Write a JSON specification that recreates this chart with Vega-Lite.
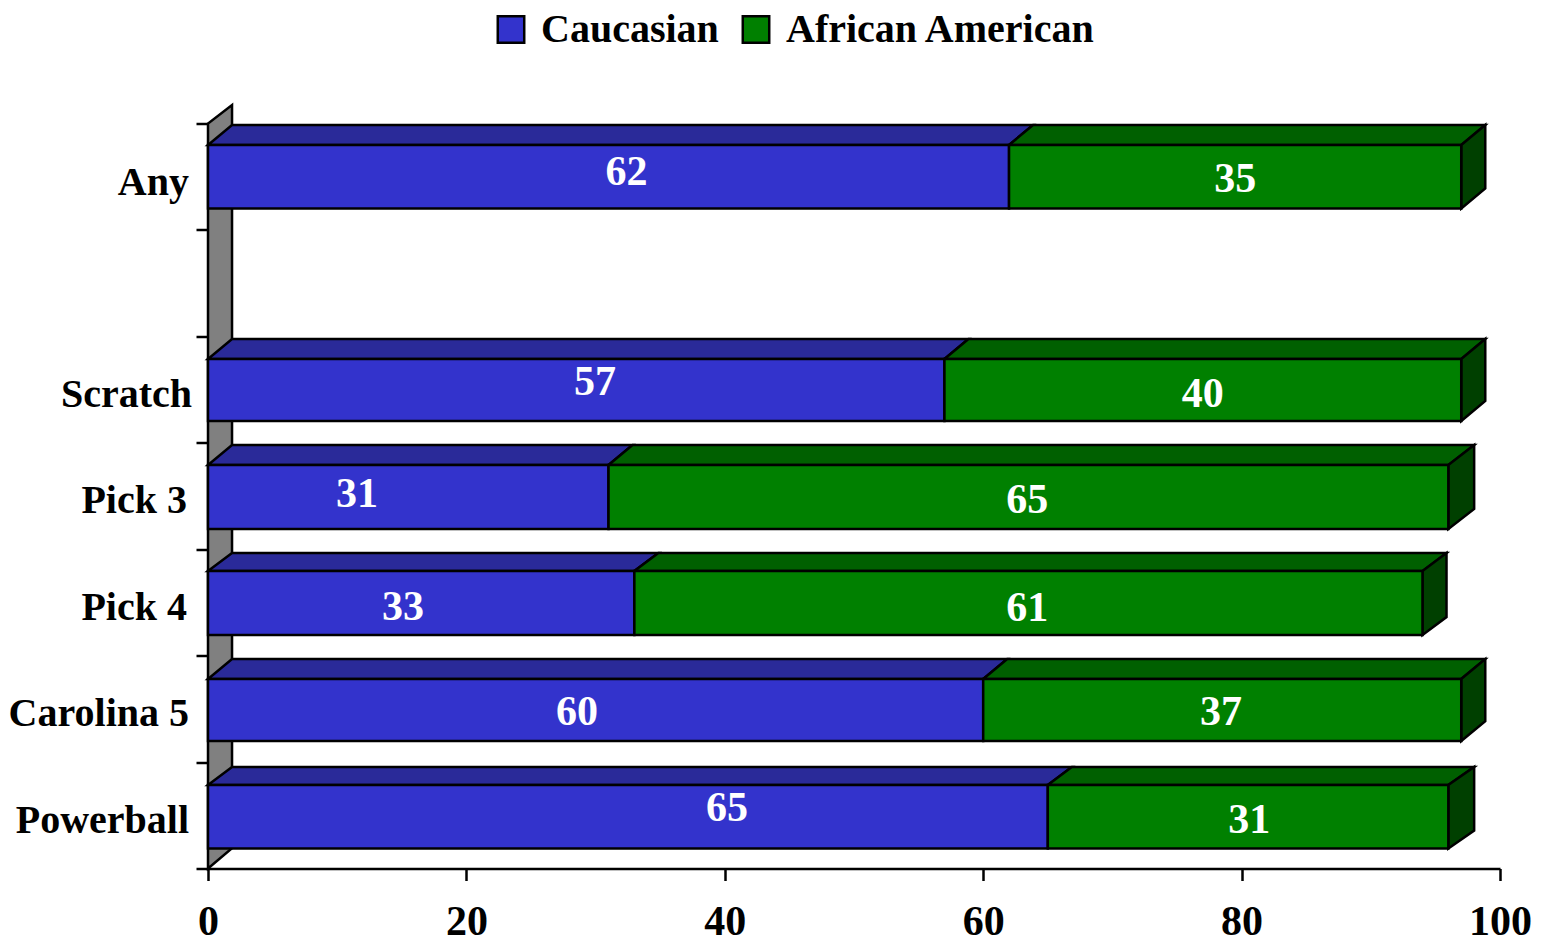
{"$schema":"https://vega.github.io/schema/vega-lite/v6.json","width":1292,"height":745,"autosize":"none","padding":{"left":208,"top":123.5,"right":41,"bottom":73.5},"background":"white","config":{"view":{"stroke":null},"font":"Liberation Serif","axis":{"grid":false,"title":null,"domainColor":"black","domainWidth":2.5,"tickColor":"black","tickWidth":2.5,"tickSize":12}},
"datasets":{
"faces":[
{"shape":"wall","face":"wall","x":0,"y":0,"y2":7},{"shape":"wall","face":"wall","x":1.86,"y":0.19,"y2":7.174},
{"shape":"a1","face":"blue top","x":0,"y":6.798,"y2":6.798},{"shape":"a1","face":"blue top","x":1.86,"y":6.798,"y2":6.986},{"shape":"a1","face":"blue top","x":62,"y":6.798,"y2":6.986},{"shape":"a1","face":"blue top","x":63.86,"y":6.986,"y2":6.986},
{"shape":"a2","face":"green top","x":62,"y":6.798,"y2":6.798},{"shape":"a2","face":"green top","x":63.86,"y":6.798,"y2":6.986},{"shape":"a2","face":"green top","x":97,"y":6.798,"y2":6.986},{"shape":"a2","face":"green top","x":98.86,"y":6.986,"y2":6.986},
{"shape":"a3","face":"green side","x":97,"y":6.201,"y2":6.798},{"shape":"a3","face":"green side","x":98.86,"y":6.389,"y2":6.986},
{"shape":"b1","face":"blue top","x":0,"y":4.787,"y2":4.787},{"shape":"b1","face":"blue top","x":1.86,"y":4.787,"y2":4.975},{"shape":"b1","face":"blue top","x":57,"y":4.787,"y2":4.975},{"shape":"b1","face":"blue top","x":58.86,"y":4.975,"y2":4.975},
{"shape":"b2","face":"green top","x":57,"y":4.787,"y2":4.787},{"shape":"b2","face":"green top","x":58.86,"y":4.787,"y2":4.975},{"shape":"b2","face":"green top","x":97,"y":4.787,"y2":4.975},{"shape":"b2","face":"green top","x":98.86,"y":4.975,"y2":4.975},
{"shape":"b3","face":"green side","x":97,"y":4.205,"y2":4.787},{"shape":"b3","face":"green side","x":98.86,"y":4.393,"y2":4.975},
{"shape":"c1","face":"blue top","x":0,"y":3.791,"y2":3.791},{"shape":"c1","face":"blue top","x":1.86,"y":3.791,"y2":3.979},{"shape":"c1","face":"blue top","x":31,"y":3.791,"y2":3.979},{"shape":"c1","face":"blue top","x":32.86,"y":3.979,"y2":3.979},
{"shape":"c2","face":"green top","x":31,"y":3.791,"y2":3.791},{"shape":"c2","face":"green top","x":32.86,"y":3.791,"y2":3.979},{"shape":"c2","face":"green top","x":96,"y":3.791,"y2":3.979},{"shape":"c2","face":"green top","x":98,"y":3.979,"y2":3.979},
{"shape":"c3","face":"green side","x":96,"y":3.19,"y2":3.791},{"shape":"c3","face":"green side","x":98,"y":3.378,"y2":3.979},
{"shape":"d1","face":"blue top","x":0,"y":2.795,"y2":2.795},{"shape":"d1","face":"blue top","x":1.86,"y":2.795,"y2":2.964},{"shape":"d1","face":"blue top","x":33,"y":2.795,"y2":2.964},{"shape":"d1","face":"blue top","x":34.86,"y":2.964,"y2":2.964},
{"shape":"d2","face":"green top","x":33,"y":2.795,"y2":2.795},{"shape":"d2","face":"green top","x":34.86,"y":2.795,"y2":2.964},{"shape":"d2","face":"green top","x":94,"y":2.795,"y2":2.964},{"shape":"d2","face":"green top","x":95.86,"y":2.964,"y2":2.964},
{"shape":"d3","face":"green side","x":94,"y":2.194,"y2":2.795},{"shape":"d3","face":"green side","x":95.86,"y":2.363,"y2":2.964},
{"shape":"e1","face":"blue top","x":0,"y":1.781,"y2":1.781},{"shape":"e1","face":"blue top","x":1.86,"y":1.781,"y2":1.968},{"shape":"e1","face":"blue top","x":60,"y":1.781,"y2":1.968},{"shape":"e1","face":"blue top","x":61.86,"y":1.968,"y2":1.968},
{"shape":"e2","face":"green top","x":60,"y":1.781,"y2":1.781},{"shape":"e2","face":"green top","x":61.86,"y":1.781,"y2":1.968},{"shape":"e2","face":"green top","x":97,"y":1.781,"y2":1.968},{"shape":"e2","face":"green top","x":98.86,"y":1.968,"y2":1.968},
{"shape":"e3","face":"green side","x":97,"y":1.198,"y2":1.781},{"shape":"e3","face":"green side","x":98.86,"y":1.385,"y2":1.968},
{"shape":"f1","face":"blue top","x":0,"y":0.785,"y2":0.785},{"shape":"f1","face":"blue top","x":1.86,"y":0.785,"y2":0.954},{"shape":"f1","face":"blue top","x":65,"y":0.785,"y2":0.954},{"shape":"f1","face":"blue top","x":66.86,"y":0.954,"y2":0.954},
{"shape":"f2","face":"green top","x":65,"y":0.785,"y2":0.785},{"shape":"f2","face":"green top","x":66.86,"y":0.785,"y2":0.954},{"shape":"f2","face":"green top","x":96,"y":0.785,"y2":0.954},{"shape":"f2","face":"green top","x":98,"y":0.954,"y2":0.954},
{"shape":"f3","face":"green side","x":96,"y":0.188,"y2":0.785},{"shape":"f3","face":"green side","x":98,"y":0.357,"y2":0.954}
],
"bars":[
{"game":"Any","series":"Caucasian","x":0,"x2":62,"y":6.201,"y2":6.798},{"game":"Any","series":"African American","x":62,"x2":97,"y":6.201,"y2":6.798},
{"game":"Scratch","series":"Caucasian","x":0,"x2":57,"y":4.205,"y2":4.787},{"game":"Scratch","series":"African American","x":57,"x2":97,"y":4.205,"y2":4.787},
{"game":"Pick 3","series":"Caucasian","x":0,"x2":31,"y":3.19,"y2":3.791},{"game":"Pick 3","series":"African American","x":31,"x2":96,"y":3.19,"y2":3.791},
{"game":"Pick 4","series":"Caucasian","x":0,"x2":33,"y":2.194,"y2":2.795},{"game":"Pick 4","series":"African American","x":33,"x2":94,"y":2.194,"y2":2.795},
{"game":"Carolina 5","series":"Caucasian","x":0,"x2":60,"y":1.198,"y2":1.781},{"game":"Carolina 5","series":"African American","x":60,"x2":97,"y":1.198,"y2":1.781},
{"game":"Powerball","series":"Caucasian","x":0,"x2":65,"y":0.188,"y2":0.785},{"game":"Powerball","series":"African American","x":65,"x2":96,"y":0.188,"y2":0.785}
],
"values":[
{"label":"62","x":32.4,"y":6.54},{"label":"35","x":79.5,"y":6.474},{"label":"57","x":29.95,"y":4.57},{"label":"40","x":77,"y":4.458},{"label":"31","x":11.53,"y":3.52},{"label":"65","x":63.4,"y":3.458},{"label":"33","x":15.09,"y":2.458},{"label":"61","x":63.4,"y":2.447},{"label":"60","x":28.56,"y":1.47},{"label":"37","x":78.4,"y":1.47},{"label":"65","x":40.17,"y":0.568},{"label":"31","x":80.6,"y":0.46}
],
"games":[
{"game":"Any","x":-1.47,"y":6.44},{"game":"Scratch","x":-1.24,"y":4.45},{"game":"Pick 3","x":-1.63,"y":3.45},{"game":"Pick 4","x":-1.63,"y":2.45},{"game":"Carolina 5","x":-1.47,"y":1.455},{"game":"Powerball","x":-1.47,"y":0.445}
]},
"layer":[
{"data":{"name":"faces"},"mark":{"type":"area","stroke":"black","strokeWidth":2.5,"clip":false,"opacity":1,"line":false},"encoding":{
"x":{"field":"x","type":"quantitative","scale":{"domain":[0,100],"nice":false,"zero":false},"axis":{"values":[0,20,40,60,80,100],"labelFont":"Liberation Serif","labelFontWeight":"bold","labelFontSize":42,"labelColor":"black","labelPadding":21,"labelOverlap":false,"labelFlush":false}},
"y":{"field":"y","type":"quantitative","scale":{"domain":[0,7],"nice":false,"zero":false},"axis":{"values":[0,1,2,3,4,5,6,7],"labels":false}},
"y2":{"field":"y2"},
"detail":{"field":"shape"},
"color":{"field":"face","type":"nominal","scale":{"domain":["Caucasian","African American","wall","blue top","green top","green side"],"range":["#3333cc","#008000","#808080","#2a2a99","#006000","#004000"]},"legend":{"orient":"none","legendX":283,"legendY":-114,"direction":"horizontal","title":null,"values":["Caucasian","African American"],"symbolType":"square","symbolSize":700,"symbolStrokeColor":"black","symbolStrokeWidth":2.5,"symbolOpacity":1,"labelFont":"Liberation Serif","labelFontWeight":"bold","labelFontSize":40,"labelColor":"black","labelOffset":10,"columnPadding":17,"padding":0,"labelLimit":400}}}},
{"data":{"name":"bars"},"mark":{"type":"rect","stroke":"black","strokeWidth":2.5},"encoding":{
"x":{"field":"x","type":"quantitative"},"x2":{"field":"x2"},
"y":{"field":"y","type":"quantitative"},"y2":{"field":"y2"},
"color":{"field":"series","type":"nominal"}}},
{"data":{"name":"values"},"mark":{"type":"text","font":"Liberation Serif","fontWeight":"bold","fontSize":42,"fill":"white","align":"center","baseline":"middle"},"encoding":{
"x":{"field":"x","type":"quantitative"},"y":{"field":"y","type":"quantitative"},"text":{"field":"label"}}},
{"data":{"name":"games"},"mark":{"type":"text","font":"Liberation Serif","fontWeight":"bold","fontSize":40,"fill":"black","align":"right","baseline":"middle"},"encoding":{
"x":{"field":"x","type":"quantitative"},"y":{"field":"y","type":"quantitative"},"text":{"field":"game"}}}
]}
